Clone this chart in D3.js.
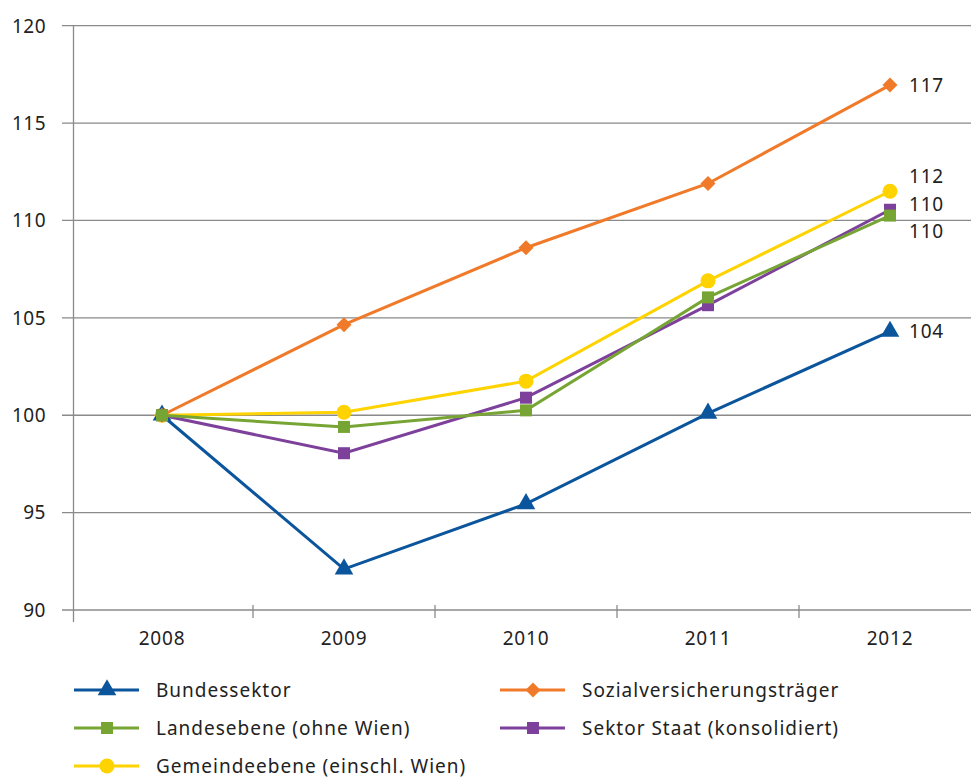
<!DOCTYPE html>
<html><head><meta charset="utf-8">
<script src="https://cdn.jsdelivr.net/npm/d3@7"></script>
<style>body{margin:0;background:#fff}svg{display:block;font-family:"Noto Sans",sans-serif}</style>
</head><body><svg id="c" width="971" height="778"></svg>
<script>
const years = ["2008","2009","2010","2011","2012"];
const yTicks = [90,95,100,105,110,115,120];
const bundessektor = [100, 92.1, 95.45, 100.1, 104.3];
const sozial = [100, 104.65, 108.6, 111.9, 116.95];
const landes = [100, 99.4, 100.25, 106.05, 110.25];
const gemeinde = [100, 100.15, 101.75, 106.9, 111.5];
const staat = [100, 98.05, 100.9, 105.65, 110.55];
const endLabels = ["104","117","110","110","112"];

const series = [
  {name:"Bundessektor", values:bundessektor, color:"#0b559c", shape:"triangle", end:endLabels[0], dy:0},
  {name:"Sozialversicherungsträger", values:sozial, color:"#f07a29", shape:"diamond", end:endLabels[1], dy:0},
  {name:"Landesebene (ohne Wien)", values:landes, color:"#77a534", shape:"square", end:endLabels[2], dy:16},
  {name:"Sektor Staat (konsolidiert)", values:staat, color:"#7d409b", shape:"square", end:endLabels[3], dy:-6},
  {name:"Gemeindeebene (einschl. Wien)", values:gemeinde, color:"#ffd300", shape:"circle", end:endLabels[4], dy:-15}
];
const drawOrder = ["Gemeindeebene (einschl. Wien)","Bundessektor","Sozialversicherungsträger","Sektor Staat (konsolidiert)","Landesebene (ohne Wien)"];

const svg = d3.select("#c");
const x = d3.scaleBand().domain(years).range([71, 981]);
const y = d3.scaleLinear().domain([90,120]).range([610, 25.7]);

svg.append("g").selectAll("line").data(yTicks).join("line")
  .attr("x1",62).attr("x2",971).attr("y1",d=>y(d)).attr("y2",d=>y(d))
  .attr("stroke","#8a8a8a").attr("stroke-width",1.3);
svg.append("line").attr("x1",73.5).attr("x2",73.5).attr("y1",25).attr("y2",622)
  .attr("stroke","#8a8a8a").attr("stroke-width",1.3);
const bounds = years.slice(1).map(v=>x(v));
svg.append("g").selectAll("line").data(bounds).join("line")
  .attr("x1",d=>d).attr("x2",d=>d).attr("y1",605).attr("y2",618)
  .attr("stroke","#8a8a8a").attr("stroke-width",1.3);
svg.append("g").selectAll("text").data(yTicks).join("text")
  .attr("x",46).attr("y",d=>y(d)).attr("dy","0.36em").attr("text-anchor","end")
  .attr("font-size",19).attr("letter-spacing",0.5).attr("fill","#222").text(d=>d);
svg.append("g").selectAll("text").data(years).join("text")
  .attr("x",d=>x(d)+x.bandwidth()/2).attr("y",645).attr("text-anchor","middle")
  .attr("font-size",19).attr("letter-spacing",0.8).attr("fill","#222").text(d=>d);

const cx = d => x(d)+x.bandwidth()/2;
const line = d3.line().x((v,i)=>cx(years[i])).y(v=>y(v));

function marker(g, shape, color, px, py){
  if(shape==="triangle") g.append("path").attr("d",d3.symbol(d3.symbolTriangle,150)()).attr("transform",`translate(${px},${py})`).attr("fill",color);
  else if(shape==="diamond") g.append("path").attr("d",`M0,-7.5L7.5,0L0,7.5L-7.5,0Z`).attr("transform",`translate(${px},${py})`).attr("fill",color);
  else if(shape==="square") g.append("rect").attr("x",px-6).attr("y",py-6).attr("width",12).attr("height",12).attr("fill",color);
  else g.append("circle").attr("cx",px).attr("cy",py).attr("r",7.5).attr("fill",color);
}

drawOrder.forEach(n=>{
  const s = series.find(d=>d.name===n);
  const g = svg.append("g");
  g.append("path").attr("d",line(s.values)).attr("fill","none").attr("stroke",s.color).attr("stroke-width",3);
  s.values.forEach((v,i)=>marker(g,s.shape,s.color,cx(years[i]),y(v)));
});

series.forEach(s=>{
  svg.append("text").attr("x",909).attr("y",y(s.values[4])+s.dy).attr("dy","0.36em")
    .attr("font-size",19).attr("letter-spacing",0.8).attr("fill","#222").text(s.end);
});

const legend = [
  {s:series[0], lx:74, ly:690},
  {s:series[2], lx:74, ly:728},
  {s:series[4], lx:74, ly:766},
  {s:series[1], lx:500, ly:690},
  {s:series[3], lx:500, ly:728}
];
legend.forEach(l=>{
  const g = svg.append("g");
  g.append("line").attr("x1",l.lx).attr("x2",l.lx+65).attr("y1",l.ly).attr("y2",l.ly)
    .attr("stroke",l.s.color).attr("stroke-width",3);
  marker(g,l.s.shape,l.s.color,l.lx+33,l.ly);
  g.append("text").attr("x",l.lx+82).attr("y",l.ly).attr("dy","0.36em")
    .attr("font-size",19).attr("letter-spacing",1).attr("fill","#222").text(l.s.name);
});
</script></body></html>
